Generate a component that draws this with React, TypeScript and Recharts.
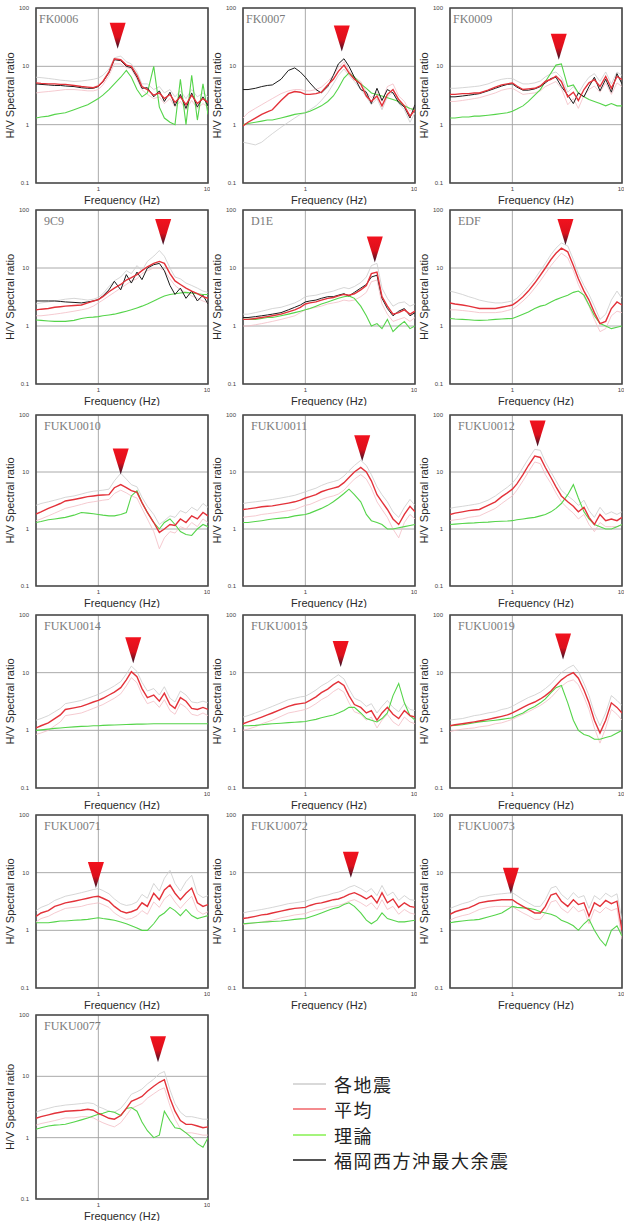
import React from "react";
import {
  LineChart,
  Line,
  XAxis,
  YAxis,
  CartesianGrid,
  ReferenceArea,
  ReferenceDot,
} from "recharts";

// frequency grid (Hz), shared by every panel
const F = [0.27, 0.3, 0.35, 0.4, 0.45, 0.5, 0.6, 0.7, 0.8, 0.9, 1, 1.1, 1.25, 1.4, 1.6, 1.8, 2, 2.25, 2.5, 2.8, 3.2, 3.6, 4, 4.5, 5, 5.6, 6.3, 7.1, 8, 9, 10];

const FK0006_AVG = [5.2, 5.1, 5.0, 5.0, 4.9, 4.9, 4.7, 4.5, 4.4, 4.3, 4.6, 5.5, 8, 13.5, 13, 10.5, 10, 7, 4.5, 4.0, 3.2, 3.5, 2.8, 3.3, 2.4, 3.0, 2.2, 3.2, 2.3, 2.8, 2.4];
const FK0006_BLACK = [5.0, 4.9, 4.8, 4.7, 4.7, 4.6, 4.5, 4.3, 4.2, 4.2, 4.5, 5.4, 7.8, 13, 12.5, 10, 9.5, 6.5, 4.2, 4.3, 3.0, 3.8, 2.5, 3.6, 2.1, 3.3, 1.9, 3.5, 2.0, 3.0, 2.1];
const FK0006_THEORY = [1.3, 1.35, 1.4, 1.5, 1.55, 1.6, 1.8, 2.0, 2.2, 2.5, 2.8, 3.2, 4.0, 5.0, 6.5, 8.5, 6.5, 4.0, 3.0, 3.5, 10, 2.0, 1.3, 1.1, 1.0, 6, 1.0, 7, 1.2, 5, 1.5];
const FK0006_A = [6.5, 6.4, 6.2, 6.0, 5.8, 5.7, 5.5, 5.6, 5.8, 6.0, 6.3, 7, 9, 14, 15, 12, 11, 8, 5, 5, 4, 4.5, 3.5, 4, 3, 3.8, 2.8, 4, 3, 3.5, 3];
const FK0006_B = [3.5, 3.6, 3.7, 3.8, 3.9, 4.0, 4.0, 3.9, 3.8, 3.8, 4.0, 4.8, 7, 11, 11, 9.5, 9, 6, 4, 3.3, 2.8, 3, 2.3, 2.8, 2, 2.5, 1.8, 2.6, 1.9, 2.3, 2];

const FK0007_AVG = [0.95, 1.1, 1.3, 1.5, 1.65, 1.8, 2.6, 3.4, 3.7, 3.6, 3.3, 3.3, 3.4, 3.6, 4.8, 6.0, 8.2, 10.5, 7.7, 6.0, 5.0, 3.1, 2.5, 3.1, 2.1, 3.3, 4.0, 2.7, 2.1, 1.4, 1.8];
const FK0007_BLACK = [4.0, 4.0, 4.2, 4.5, 4.7, 4.8, 6.0, 8.5, 9.4, 8.0, 6.5, 5.2, 4.0, 3.5, 4.5, 7, 11, 13.5, 10, 6.5, 4.0, 3.6, 2.3, 4.2, 2.6, 4.0, 3.5, 2.4, 2.0, 1.3, 2.2];
const FK0007_THEORY = [1.0, 1.05, 1.1, 1.15, 1.2, 1.2, 1.3, 1.4, 1.5, 1.55, 1.6, 1.7, 1.9, 2.1, 2.5, 3.1, 4.2, 6.3, 7.7, 6.5, 5.0, 4.2, 3.5, 3.3, 3.1, 2.9, 2.7, 2.5, 2.1, 1.9, 1.8];
const FK0007_A = [0.5, 0.48, 0.45, 0.5, 0.6, 0.7, 0.9, 1.1, 1.3, 1.5, 1.6, 1.8, 2.1, 2.6, 3.5, 5, 7, 9, 7, 5.5, 4, 3, 2.2, 2.8, 1.8, 3, 3.6, 2.3, 1.8, 1.1, 1.6];
const FK0007_B = [1.3, 1.6, 1.9, 2.2, 2.5, 2.8, 3.4, 3.8, 4.0, 4.0, 3.8, 3.8, 4.0, 4.4, 5.5, 7, 9.5, 12, 8.5, 6.5, 5.5, 3.6, 2.9, 3.6, 2.5, 4.5, 5, 3.1, 2.5, 1.7, 2.1];

const FK0009_AVG = [3.3, 3.3, 3.4, 3.4, 3.5, 3.5, 3.9, 4.4, 4.8, 5.0, 5.2, 4.6, 4.0, 4.1, 4.2, 4.6, 5.5, 6.0, 6.8, 5.5, 3.0, 3.6, 2.6, 4.0, 5.2, 5.9, 4.5, 6.7, 4.2, 6.7, 5.9];
const FK0009_BLACK = [3.0, 3.0, 3.1, 3.2, 3.3, 3.4, 3.8, 4.2, 4.6, 4.9, 5.0, 4.4, 3.9, 3.9, 4.1, 4.5, 5.2, 6.2, 6.5, 4.5, 3.2, 2.3, 3.5, 3.0, 4.5, 6.5, 3.8, 6.0, 3.6, 7.5, 5.0];
const FK0009_THEORY = [1.3, 1.3, 1.35, 1.35, 1.4, 1.4, 1.45, 1.5, 1.55, 1.6, 1.7, 1.85, 2.1, 2.5, 3.2, 4.0, 5.5, 7.7, 10.5, 11, 4.5, 4.8, 3.5, 3.0, 2.7, 2.5, 2.3, 2.1, 2.3, 2.1, 2.1];
const FK0009_A = [4.2, 4.2, 4.3, 4.4, 4.5, 4.6, 5.0, 5.6, 6, 6.2, 6.2, 5.6, 5, 5, 5.2, 5.6, 6.6, 7.5, 8, 6.5, 3.6, 4.5, 3.4, 5, 6.5, 7.5, 5.5, 8, 5, 8, 7];
const FK0009_B = [2.5, 2.5, 2.6, 2.7, 2.8, 2.9, 3.2, 3.5, 3.9, 4.1, 4.2, 3.8, 3.3, 3.4, 3.5, 3.8, 4.5, 5, 5.5, 4.2, 2.2, 2.8, 1.9, 3.2, 4, 4.6, 3.6, 5.2, 3.3, 5.2, 4.5];

const S9C9_AVG = [1.9, 1.95, 2.0, 2.1, 2.15, 2.2, 2.25, 2.3, 2.5, 2.7, 2.85, 3.2, 3.9, 4.5, 5.2, 6.2, 6.8, 7.7, 9.0, 10.5, 12, 13, 12, 8, 6, 5.2, 4.5, 4.0, 3.6, 3.2, 3.0];
const S9C9_BLACK = [2.7, 2.7, 2.7, 2.7, 2.65, 2.6, 2.55, 2.5, 2.6, 2.7, 2.85, 3.3, 4.2, 5.9, 4.2, 7.7, 5.5, 8.5, 6.3, 10, 11.4, 12, 9, 5, 3.5, 4.5, 3.0, 4.0, 2.7, 3.4, 2.4];
const S9C9_THEORY = [1.27, 1.25, 1.22, 1.2, 1.2, 1.2, 1.25, 1.35, 1.4, 1.42, 1.45, 1.5, 1.55, 1.6, 1.7, 1.8, 1.9, 2.05, 2.2, 2.4, 2.7, 3.0, 3.3, 3.5, 3.6, 3.7, 3.8, 3.7, 3.6, 3.5, 3.5];
const S9C9_A = [2.4, 2.5, 2.6, 2.7, 2.8, 2.9, 3.0, 2.9, 2.8, 2.9, 3.1, 3.6, 4.8, 6, 7, 9, 8, 11, 9, 13, 16, 20, 16, 10, 7, 6.5, 5.5, 5, 4.5, 4, 3.8];
const S9C9_B = [1.5, 1.5, 1.55, 1.6, 1.65, 1.7, 1.8, 1.9, 2.0, 2.2, 2.5, 2.8, 3.3, 3.8, 4.5, 5.2, 6, 6.5, 8, 9, 10, 10, 9, 6.5, 5, 4.2, 3.8, 3.3, 3.0, 2.7, 2.5];

const D1E_AVG = [1.3, 1.3, 1.35, 1.4, 1.45, 1.5, 1.6, 1.75, 1.9, 2.1, 2.4, 2.5, 2.6, 2.8, 3.0, 3.1, 3.3, 3.5, 3.4, 3.6, 4.2, 5.0, 8.0, 8.5, 3.2, 2.2, 1.6, 1.7, 1.9, 1.6, 1.8];
const D1E_BLACK = [1.4, 1.4, 1.45, 1.5, 1.55, 1.6, 1.7, 1.9, 2.1, 2.3, 2.6, 2.7, 2.8, 3.0, 3.2, 3.2, 3.4, 3.6, 3.3, 3.8, 4.5, 5.2, 7.0, 7.5, 3.0, 2.0, 1.5, 1.8, 2.0, 1.5, 1.7];
const D1E_THEORY = [1.3, 1.3, 1.3, 1.35, 1.4, 1.4, 1.5, 1.6, 1.7, 1.8, 1.9, 2.0, 2.2, 2.4, 2.6, 2.8, 3.0, 3.2, 3.3, 3.0, 2.2, 1.5, 1.0, 1.1, 0.9, 1.3, 0.8, 1.0, 1.2, 0.9, 1.0];
const D1E_A = [1.6, 1.6, 1.7, 1.8, 1.9, 2.0, 2.1, 2.3, 2.5, 2.8, 3.2, 3.3, 3.4, 3.6, 3.8, 4, 4.3, 4.6, 4.4, 4.8, 5.6, 7, 11, 12, 4.5, 3, 2.2, 2.5, 2.6, 2.2, 2.4];
const D1E_B = [1.0, 1.0, 1.05, 1.1, 1.15, 1.2, 1.3, 1.4, 1.5, 1.7, 1.9, 2.0, 2.1, 2.2, 2.4, 2.5, 2.6, 2.8, 2.7, 2.8, 3.2, 3.8, 5.8, 6.2, 2.4, 1.6, 1.2, 1.3, 1.4, 1.2, 1.4];

const EDF_AVG = [2.5, 2.4, 2.3, 2.2, 2.1, 2.0, 2.0, 2.0, 2.1, 2.2, 2.3, 2.6, 3.2, 4.0, 5.5, 7.5, 10, 14, 18, 22, 19, 11, 6.5, 4.0, 2.8, 1.7, 1.1, 1.2, 2.0, 2.6, 2.3];
const EDF_THEORY = [1.35, 1.32, 1.3, 1.28, 1.26, 1.25, 1.27, 1.3, 1.32, 1.34, 1.35, 1.45, 1.6, 1.75, 2.0, 2.2, 2.3, 2.6, 2.85, 3.1, 3.4, 3.8, 4.0, 3.4, 2.3, 1.5, 1.1, 1.0, 0.9, 0.95, 1.0];
const EDF_A = [4.0, 3.8, 3.5, 3.2, 3, 2.8, 2.6, 2.5, 2.5, 2.6, 2.7, 3, 3.8, 4.8, 6.5, 9, 12, 17, 22, 27, 24, 14, 8, 5, 3.5, 2.2, 1.3, 1.6, 2.8, 4, 3];
const EDF_B = [1.9, 1.9, 1.85, 1.8, 1.75, 1.7, 1.7, 1.7, 1.75, 1.85, 1.95, 2.2, 2.7, 3.3, 4.5, 6, 8, 11, 14, 18, 15, 9, 5.2, 3.2, 2.2, 1.3, 0.8, 0.9, 1.5, 1.8, 1.7];

const FUKU0010_AVG = [1.83, 2.0, 2.3, 2.55, 2.8, 3.1, 3.3, 3.5, 3.7, 3.8, 3.9, 3.95, 4.0, 5.3, 6.0, 5.3, 4.7, 4.4, 2.9, 1.95, 1.3, 0.87, 1.0, 1.2, 1.15, 1.5, 1.3, 1.7, 1.5, 1.95, 1.7];
const FUKU0010_THEORY = [1.3, 1.35, 1.45, 1.5, 1.55, 1.6, 1.75, 1.95, 1.9, 1.85, 1.8, 1.75, 1.7, 1.7, 1.8, 1.95, 3.8, 4.7, 2.9, 1.95, 1.3, 1.0, 1.3, 1.5, 1.2, 0.9, 0.8, 0.77, 1.0, 1.2, 1.1];
const FUKU0010_A = [2.6, 2.8, 3.0, 3.2, 3.4, 3.6, 3.8, 4.1, 4.4, 4.6, 4.7, 4.8, 5, 7, 9.5, 7.5, 6, 5.5, 3.6, 2.5, 1.8, 1.2, 1.4, 1.7, 1.6, 2.1, 1.9, 2.4, 2.1, 2.8, 2.4];
const FUKU0010_B = [1.4, 1.5, 1.7, 1.9, 2.1, 2.3, 2.5, 2.7, 2.9, 3.0, 3.1, 3.2, 3.3, 4.2, 4.8, 4.3, 3.8, 3.5, 2.3, 1.5, 0.9, 0.45, 0.7, 0.9, 0.85, 1.1, 1.0, 1.3, 1.1, 1.5, 1.3];

const FUKU0011_AVG = [2.2, 2.25, 2.35, 2.45, 2.5, 2.55, 2.7, 2.85, 3.0, 3.2, 3.5, 3.7, 4.0, 4.5, 4.9, 5.2, 5.5, 6.5, 8.0, 10, 12, 10, 7, 4.0, 3.0, 2.2, 1.5, 1.2, 1.8, 2.5, 2.0];
const FUKU0011_THEORY = [1.3, 1.3, 1.35, 1.4, 1.45, 1.5, 1.55, 1.6, 1.7, 1.75, 1.8, 1.9, 2.1, 2.3, 2.6, 3.0, 3.5, 4.2, 5.0, 4.0, 3.0, 1.8, 1.4, 1.3, 1.2, 1.0, 1.0, 1.05, 1.1, 1.15, 1.2];
const FUKU0011_A = [2.8, 2.9, 3.0, 3.1, 3.2, 3.3, 3.5, 3.7, 3.9, 4.2, 4.5, 4.8, 5.2, 5.8, 6.4, 6.8, 7.2, 8.5, 10.5, 13, 16, 13, 9, 5.5, 4, 3, 2, 1.6, 2.4, 3.3, 2.6];
const FUKU0011_B = [1.6, 1.65, 1.7, 1.8, 1.85, 1.9, 2.0, 2.1, 2.2, 2.4, 2.6, 2.7, 3.0, 3.3, 3.6, 3.8, 4.1, 4.8, 6, 7.5, 9, 7.5, 5.2, 3, 2.2, 1.6, 1.0, 0.7, 1.3, 1.8, 1.5];

const FUKU0012_AVG = [1.8, 1.9, 2.0, 2.1, 2.15, 2.2, 2.6, 3.0, 3.7, 4.3, 5.0, 6.2, 9.0, 13, 19, 18, 12, 8, 5.5, 3.8, 3.0, 2.5, 2.0, 2.4, 1.6, 1.2, 1.8, 1.4, 1.5, 1.4, 1.6];
const FUKU0012_THEORY = [1.2, 1.22, 1.25, 1.27, 1.28, 1.3, 1.32, 1.35, 1.37, 1.38, 1.4, 1.45, 1.5, 1.55, 1.6, 1.7, 1.8, 2.0, 2.3, 2.8, 4.0, 6.0, 3.5, 2.0, 1.5, 1.2, 1.1, 1.0, 1.0, 1.1, 1.2];
const FUKU0012_A = [2.3, 2.4, 2.5, 2.6, 2.7, 2.8, 3.2, 3.8, 4.6, 5.4, 6.4, 8, 12, 17, 25, 24, 15, 10, 7, 4.8, 3.8, 3.2, 2.6, 3.2, 2.1, 1.6, 2.4, 1.8, 2, 1.8, 2];
const FUKU0012_B = [1.4, 1.45, 1.5, 1.6, 1.65, 1.7, 2.0, 2.3, 2.8, 3.3, 3.8, 4.8, 7, 10, 15, 14, 9, 6.3, 4.3, 3, 2.3, 1.9, 1.5, 1.8, 1.2, 0.9, 1.3, 1.1, 1.1, 1.1, 1.2];

const FUKU0014_AVG = [1.1, 1.2, 1.35, 1.6, 1.85, 2.3, 2.45, 2.6, 2.85, 3.1, 3.3, 3.6, 4.1, 4.6, 5.5, 7.5, 10.4, 8.5, 5.3, 3.7, 4.1, 3.2, 4.4, 2.8, 2.4, 3.7, 3.2, 2.4, 2.3, 2.5, 2.3];
const FUKU0014_THEORY = [1.0, 1.02, 1.05, 1.08, 1.1, 1.12, 1.15, 1.17, 1.18, 1.2, 1.2, 1.22, 1.23, 1.24, 1.25, 1.26, 1.27, 1.28, 1.28, 1.29, 1.3, 1.3, 1.3, 1.3, 1.3, 1.3, 1.3, 1.3, 1.3, 1.3, 1.3];
const FUKU0014_A = [1.5, 1.6, 1.8, 2.1, 2.4, 2.9, 3.1, 3.3, 3.6, 3.9, 4.2, 4.6, 5.2, 5.9, 7, 9.5, 13, 10.5, 6.8, 4.8, 5.3, 4.1, 5.7, 3.6, 3.1, 4.8, 4.1, 3.1, 3, 3.2, 3];
const FUKU0014_B = [0.85, 0.9, 1.0, 1.2, 1.4, 1.8, 1.9, 2.0, 2.2, 2.4, 2.6, 2.8, 3.2, 3.6, 4.3, 5.9, 8.2, 6.7, 4.2, 2.9, 3.2, 2.5, 3.4, 2.2, 1.9, 2.9, 2.5, 1.9, 1.8, 2, 1.8];

const FUKU0015_AVG = [1.3, 1.4, 1.55, 1.7, 1.85, 2.0, 2.3, 2.6, 2.8, 2.9, 3.0, 3.3, 3.8, 4.5, 5.2, 6.2, 7.0, 6.0, 4.0, 2.8, 2.5, 2.0, 2.2, 1.5, 2.0, 2.5, 1.9, 1.6, 2.2, 1.8, 1.7];
const FUKU0015_THEORY = [1.2, 1.2, 1.22, 1.25, 1.28, 1.3, 1.33, 1.36, 1.38, 1.4, 1.42, 1.48, 1.55, 1.65, 1.75, 1.85, 2.0, 2.2, 2.5, 2.5, 2.0, 1.6, 1.5, 1.4, 1.6, 2.0, 4.0, 6.5, 3.0, 1.8, 1.5];
const FUKU0015_A = [1.7, 1.8, 2.0, 2.2, 2.4, 2.6, 3.0, 3.4, 3.6, 3.8, 3.9, 4.3, 5, 5.9, 6.8, 8, 9.2, 7.8, 5.2, 3.6, 3.2, 2.6, 2.9, 2, 2.6, 3.3, 2.5, 2.1, 2.9, 2.3, 2.2];
const FUKU0015_B = [1.0, 1.05, 1.15, 1.3, 1.4, 1.5, 1.75, 2.0, 2.1, 2.2, 2.3, 2.5, 2.9, 3.4, 3.9, 4.7, 5.3, 4.6, 3, 2.1, 1.9, 1.5, 1.7, 1.1, 1.5, 1.9, 1.4, 1.2, 1.7, 1.4, 1.3];

const FUKU0019_AVG = [1.2, 1.25, 1.3, 1.35, 1.4, 1.45, 1.55, 1.65, 1.75, 1.85, 2.0, 2.2, 2.5, 2.8, 3.1, 3.5, 4.0, 4.8, 6.0, 7.5, 9.0, 10, 8.0, 5.0, 3.0, 1.5, 0.9, 1.5, 3.0, 2.5, 2.0];
const FUKU0019_THEORY = [1.2, 1.22, 1.25, 1.3, 1.35, 1.4, 1.45, 1.5, 1.55, 1.6, 1.65, 1.8, 2.0, 2.3, 2.6, 3.0, 3.5, 4.5, 5.5, 6.0, 3.0, 1.5, 1.0, 0.85, 0.8, 0.7, 0.7, 0.75, 0.8, 0.9, 1.0];
const FUKU0019_A = [1.5, 1.55, 1.6, 1.7, 1.8, 1.85, 2.0, 2.1, 2.3, 2.4, 2.6, 2.9, 3.3, 3.7, 4.1, 4.6, 5.3, 6.4, 8, 10, 12, 13.5, 10.5, 6.5, 4, 2, 1.2, 2, 4, 3.3, 2.7];
const FUKU0019_B = [0.95, 1.0, 1.05, 1.08, 1.1, 1.15, 1.2, 1.3, 1.35, 1.45, 1.55, 1.7, 1.9, 2.1, 2.4, 2.7, 3.1, 3.7, 4.6, 5.8, 7, 7.5, 6.2, 3.8, 2.3, 1.1, 0.6, 1.1, 2.3, 1.9, 1.5];

const FUKU0071_AVG = [1.74, 2.0, 2.2, 2.6, 2.8, 3.0, 3.2, 3.4, 3.6, 3.8, 3.9, 3.6, 3.2, 2.6, 2.15, 2.0, 2.1, 2.3, 3.0, 2.6, 4.4, 3.4, 5.0, 6.1, 4.4, 3.4, 4.4, 5.4, 3.0, 2.6, 2.8];
const FUKU0071_THEORY = [1.35, 1.35, 1.35, 1.4, 1.45, 1.45, 1.5, 1.52, 1.55, 1.6, 1.65, 1.6, 1.55, 1.5, 1.4, 1.3, 1.2, 1.1, 1.0, 1.0, 1.3, 1.76, 2.0, 2.5, 2.2, 1.8, 2.3, 1.8, 1.6, 1.7, 1.8];
const FUKU0071_A = [2.2, 2.5, 2.8, 3.3, 3.6, 3.9, 4.2, 4.5, 4.8, 5.1, 5.3, 4.9, 4.3, 3.5, 2.9, 2.7, 2.8, 3.1, 4.2, 3.6, 6.5, 4.8, 8, 11, 6.5, 4.8, 7, 9, 4.3, 3.7, 4];
const FUKU0071_B = [1.4, 1.6, 1.75, 2.0, 2.2, 2.4, 2.5, 2.6, 2.8, 2.9, 3.0, 2.8, 2.5, 2.0, 1.7, 1.55, 1.6, 1.8, 2.2, 1.9, 3.1, 2.5, 3.5, 4.2, 3.1, 2.4, 3.1, 3.9, 2.2, 1.9, 2.1];

const FUKU0072_AVG = [1.6, 1.65, 1.75, 1.85, 1.9, 2.0, 2.15, 2.3, 2.4, 2.45, 2.5, 2.7, 2.9, 3.0, 3.2, 3.4, 3.5, 3.8, 4.2, 4.5, 4.0, 3.5, 4.0, 3.0, 4.5, 3.0, 3.5, 2.5, 3.0, 2.6, 2.5];
const FUKU0072_THEORY = [1.3, 1.32, 1.35, 1.38, 1.4, 1.42, 1.45, 1.5, 1.55, 1.58, 1.6, 1.7, 1.85, 2.0, 2.2, 2.4, 2.5, 2.8, 3.0, 2.6, 2.0, 1.5, 1.3, 1.5, 2.0, 1.6, 1.5, 1.4, 1.4, 1.45, 1.5];
const FUKU0072_A = [2.0, 2.1, 2.2, 2.3, 2.4, 2.5, 2.7, 2.9, 3.0, 3.1, 3.2, 3.4, 3.7, 3.9, 4.1, 4.4, 4.6, 5, 5.6, 6, 5.3, 4.6, 5.3, 4, 6, 4, 4.6, 3.3, 4, 3.4, 3.3];
const FUKU0072_B = [1.25, 1.3, 1.35, 1.4, 1.45, 1.5, 1.65, 1.75, 1.85, 1.9, 1.95, 2.1, 2.25, 2.3, 2.5, 2.6, 2.7, 2.9, 3.2, 3.4, 3.0, 2.6, 3.0, 2.3, 3.4, 2.3, 2.6, 1.9, 2.3, 2.0, 1.9];

const FUKU0073_AVG = [1.9, 2.1, 2.3, 2.45, 2.7, 3.0, 3.2, 3.3, 3.4, 3.4, 3.4, 3.0, 2.6, 2.3, 2.0, 2.0, 2.6, 4.1, 4.4, 3.2, 2.6, 3.4, 2.8, 3.0, 1.76, 3.0, 2.6, 3.3, 2.9, 3.2, 1.0];
const FUKU0073_THEORY = [1.35, 1.4, 1.45, 1.5, 1.52, 1.55, 1.7, 1.85, 2.0, 2.3, 2.6, 2.5, 2.45, 2.4, 2.3, 2.1, 2.0, 1.9, 1.76, 1.5, 1.35, 1.2, 1.0, 1.3, 1.55, 1.0, 0.7, 0.54, 1.0, 1.2, 0.8];
const FUKU0073_A = [2.4, 2.6, 2.9, 3.1, 3.4, 3.8, 4.0, 4.2, 4.3, 4.4, 4.5, 4, 3.4, 3, 2.6, 2.6, 3.4, 5.4, 5.8, 4.2, 3.4, 4.5, 3.7, 4, 2.4, 4, 3.4, 4.4, 3.8, 4.3, 1.5];
const FUKU0073_B = [1.5, 1.65, 1.8, 1.9, 2.1, 2.3, 2.5, 2.6, 2.6, 2.6, 2.6, 2.3, 2.0, 1.8, 1.55, 1.55, 2.0, 3.1, 3.3, 2.4, 2.0, 2.6, 2.1, 2.3, 1.3, 2.3, 2, 2.5, 2.2, 2.4, 0.7];

const FUKU0077_AVG = [2.07, 2.2, 2.35, 2.5, 2.6, 2.7, 2.75, 2.8, 2.9, 2.8, 2.5, 2.3, 2.07, 2.0, 2.3, 3.0, 3.9, 4.3, 4.7, 5.7, 6.9, 8.0, 8.8, 4.4, 2.7, 1.9, 1.65, 1.65, 1.55, 1.45, 1.5];
const FUKU0077_THEORY = [1.37, 1.45, 1.55, 1.6, 1.62, 1.65, 1.8, 1.95, 2.1, 2.25, 2.4, 2.5, 2.7, 2.6, 2.3, 3.0, 3.1, 2.7, 1.8, 1.3, 1.0, 1.1, 2.7, 1.9, 1.45, 1.4, 1.2, 1.0, 0.8, 0.7, 1.0];
const FUKU0077_A = [2.6, 2.8, 3.0, 3.2, 3.3, 3.4, 3.5, 3.6, 3.7, 3.6, 3.2, 3.0, 2.7, 2.6, 3, 3.9, 5.1, 5.6, 6.2, 7.5, 9, 11, 12, 6, 3.6, 2.6, 2.2, 2.2, 2.1, 2, 2];
const FUKU0077_B = [1.6, 1.7, 1.8, 1.9, 2.0, 2.1, 2.1, 2.2, 2.2, 2.1, 1.9, 1.75, 1.6, 1.5, 1.75, 2.3, 3, 3.3, 3.6, 4.4, 5.2, 6, 6.5, 3.3, 2, 1.4, 1.2, 1.2, 1.15, 1.1, 1.1];

const NAMES = ["FK0006", "FK0007", "FK0009", "9C9", "D1E", "EDF", "FUKU0010", "FUKU0011", "FUKU0012", "FUKU0014", "FUKU0015", "FUKU0019", "FUKU0071", "FUKU0072", "FUKU0073", "FUKU0077"];
const PEAK_FREQ = [1.5, 2.15, 2.65, 3.9, 4.3, 3.05, 1.6, 3.3, 1.7, 2.08, 2.1, 2.9, 0.95, 2.6, 0.97, 3.5];
const PEAK_TIP = [20, 18, 13, 25, 12.5, 25, 9, 15.5, 28, 14.5, 12.6, 17, 5.4, 8.2, 4.3, 17];

const AVG = [FK0006_AVG, FK0007_AVG, FK0009_AVG, S9C9_AVG, D1E_AVG, EDF_AVG, FUKU0010_AVG, FUKU0011_AVG, FUKU0012_AVG, FUKU0014_AVG, FUKU0015_AVG, FUKU0019_AVG, FUKU0071_AVG, FUKU0072_AVG, FUKU0073_AVG, FUKU0077_AVG];
const THEORY = [FK0006_THEORY, FK0007_THEORY, FK0009_THEORY, S9C9_THEORY, D1E_THEORY, EDF_THEORY, FUKU0010_THEORY, FUKU0011_THEORY, FUKU0012_THEORY, FUKU0014_THEORY, FUKU0015_THEORY, FUKU0019_THEORY, FUKU0071_THEORY, FUKU0072_THEORY, FUKU0073_THEORY, FUKU0077_THEORY];
const BLACK = [FK0006_BLACK, FK0007_BLACK, FK0009_BLACK, S9C9_BLACK, D1E_BLACK, null, null, null, null, null, null, null, null, null, null, null];
const EACH_A = [FK0006_A, FK0007_A, FK0009_A, S9C9_A, D1E_A, EDF_A, FUKU0010_A, FUKU0011_A, FUKU0012_A, FUKU0014_A, FUKU0015_A, FUKU0019_A, FUKU0071_A, FUKU0072_A, FUKU0073_A, FUKU0077_A];
const EACH_B = [FK0006_B, FK0007_B, FK0009_B, S9C9_B, D1E_B, EDF_B, FUKU0010_B, FUKU0011_B, FUKU0012_B, FUKU0014_B, FUKU0015_B, FUKU0019_B, FUKU0071_B, FUKU0072_B, FUKU0073_B, FUKU0077_B];

const LEGEND_LABELS = ["各地震", "平均", "理論", "福岡西方沖最大余震"];

// layout
const COL_X = [0, 207, 414];
const ROW_TOP = [8, 210, 415, 615, 815, 1015];
const PLOT_H = [175, 174, 171, 173, 173, 184];
const TOP = 4;
const X_AXIS_H = 22;
const Y_AXIS_W = 36;
const CHART_W = 210;

const C_EACH = "#cccccc";
const C_EACH2 = "#f2bcc4";
const C_AVG = "#e3323a";
const C_THEORY = "#55d44a";
const C_BLACK = "#1c1c1c";
const LEGEND_COLORS = [C_EACH, "#f06468", "#86f050", C_BLACK];

const SANS = "'Liberation Sans', Arial, sans-serif";

const makeMarker = (id: string) => (props: any) => {
  const { cx, cy } = props;
  if (cx == null || cy == null) return <g />;
  return (
    <g>
      <defs>
        <linearGradient id={id} x1="0" y1="0" x2="0" y2="1">
          <stop offset="0%" stopColor="#f2121e" />
          <stop offset="55%" stopColor="#dc101c" />
          <stop offset="100%" stopColor="#2c1428" />
        </linearGradient>
      </defs>
      <polygon
        points={`${cx - 8},${cy - 26} ${cx + 8},${cy - 26} ${cx},${cy}`}
        fill={`url(#${id})`}
      />
    </g>
  );
};

const Panel: React.FC<{ idx: number }> = ({ idx }) => {
  const row = Math.floor(idx / 3);
  const col = idx % 3;
  const height = TOP + PLOT_H[row] + X_AXIS_H;
  const black = BLACK[idx];
  const data = F.map((f, i) => ({
    f,
    avg: AVG[idx][i],
    theory: THEORY[idx][i],
    black: black ? black[i] : null,
    eachA: EACH_A[idx][i],
    eachB: EACH_B[idx][i],
  }));
  const nameOffset = NAMES[idx].startsWith("FK") ? 3 : 8;

  return (
    <div
      style={{
        position: "absolute",
        left: COL_X[col],
        top: ROW_TOP[row] - TOP,
        width: CHART_W,
        height,
      }}
    >
      <LineChart
        width={CHART_W}
        height={height}
        data={data}
        margin={{ top: TOP, right: 2, bottom: 0, left: 0 }}
      >
        <CartesianGrid stroke="#a0a0a0" strokeWidth={0.9} />
        <XAxis
          dataKey="f"
          type="number"
          scale="log"
          domain={[0.27, 10]}
          ticks={[1, 10]}
          allowDataOverflow
          axisLine={false}
          tickLine={false}
          tickSize={2}
          height={X_AXIS_H}
          tick={{ fontSize: 6, fill: "#444", fontFamily: SANS }}
          label={{
            value: "Frequency (Hz)",
            position: "insideBottom",
            offset: 1,
            fontSize: 11,
            fill: "#2a2a2a",
            fontFamily: SANS,
          }}
        />
        <YAxis
          type="number"
          scale="log"
          domain={[0.1, 100]}
          ticks={[0.1, 1, 10, 100]}
          allowDataOverflow
          width={Y_AXIS_W}
          axisLine={false}
          tickLine={false}
          tickSize={5}
          tick={{ fontSize: 6, fill: "#444", fontFamily: SANS }}
          label={{
            value: "H/V Spectral ratio",
            angle: -90,
            position: "insideLeft",
            offset: 10,
            fontSize: 11,
            fill: "#2a2a2a",
            fontFamily: SANS,
            style: { textAnchor: "middle" },
          }}
        />
        <Line dataKey="eachA" stroke={C_EACH} strokeWidth={0.8} dot={false} isAnimationActive={false} />
        <Line dataKey="eachB" stroke={C_EACH2} strokeWidth={0.8} dot={false} isAnimationActive={false} />
        <Line dataKey="theory" stroke={C_THEORY} strokeWidth={1.1} dot={false} isAnimationActive={false} />
        {black && (
          <Line dataKey="black" stroke={C_BLACK} strokeWidth={1} dot={false} isAnimationActive={false} />
        )}
        <Line dataKey="avg" stroke={C_AVG} strokeWidth={1.4} dot={false} isAnimationActive={false} />
        <ReferenceArea
          x1={0.27}
          x2={10}
          y1={0.1}
          y2={100}
          fill="none"
          fillOpacity={0}
          stroke="#4a4a4a"
          strokeWidth={1.6}
        />
        <ReferenceDot
          x={PEAK_FREQ[idx]}
          y={PEAK_TIP[idx]}
          shape={makeMarker(`peak-grad-${idx}`)}
        />
      </LineChart>
      <div
        style={{
          position: "absolute",
          left: Y_AXIS_W + nameOffset,
          top: TOP + 5,
          fontFamily: "'Liberation Serif', serif",
          fontSize: 12,
          lineHeight: "12px",
          color: "#7a7a7a",
        }}
      >
        {NAMES[idx]}
      </div>
    </div>
  );
};

const App: React.FC = () => {
  return (
    <div
      style={{
        position: "absolute",
        left: 0,
        top: 0,
        width: 628,
        height: 1227,
        background: "#fff",
        overflow: "hidden",
      }}
    >
      {NAMES.map((_, i) => (
        <Panel key={i} idx={i} />
      ))}
      <div style={{ position: "absolute", left: 293, top: 1071 }}>
        {LEGEND_LABELS.map((label, i) => (
          <div key={label} style={{ display: "flex", alignItems: "center", height: 25.5 }}>
            <svg width={33} height={4} style={{ marginRight: 8 }}>
              <line x1={0} y1={2} x2={33} y2={2} stroke={LEGEND_COLORS[i]} strokeWidth={1.4} />
            </svg>
            <span
              style={{
                fontFamily: "'Noto Sans CJK JP', sans-serif",
                fontSize: 18,
                letterSpacing: 1.5,
                color: "#222",
                lineHeight: "22px",
              }}
            >
              {label}
            </span>
          </div>
        ))}
      </div>
    </div>
  );
};

export default App;
